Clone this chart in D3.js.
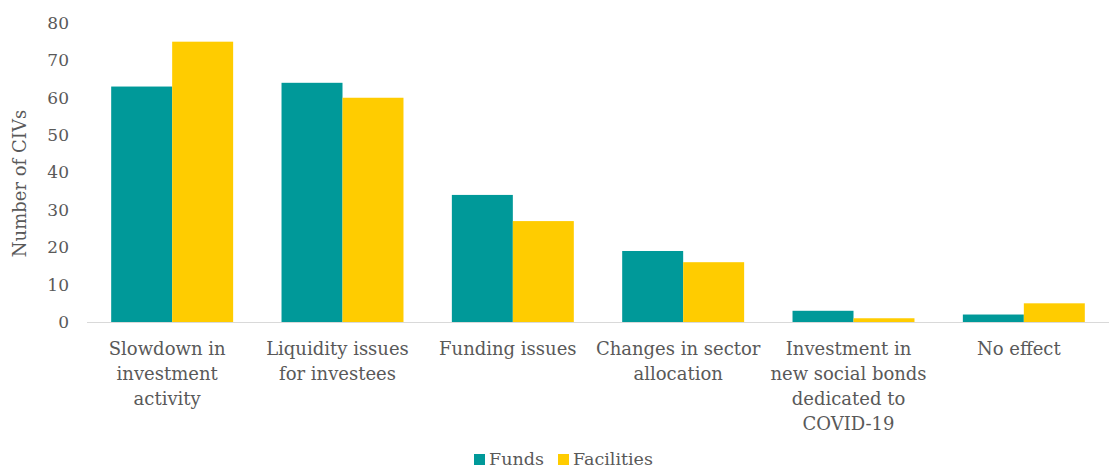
<!DOCTYPE html>
<html>
<head>
<meta charset="utf-8">
<script src="https://cdn.jsdelivr.net/npm/d3@7"></script>
<style>
  html, body { margin: 0; padding: 0; background: #fff; }
  svg { display: block; }
  text { font-family: "DejaVu Serif", Georgia, serif; fill: #595959; }
</style>
</head>
<body>
<svg id="chart" width="1109" height="468"></svg>
<script>
// Effects reported by CIVs, by type of vehicle
const categories = [
  ["Slowdown in", "investment", "activity"],
  ["Liquidity issues", "for investees"],
  ["Funding issues"],
  ["Changes in sector", "allocation"],
  ["Investment in", "new social bonds", "dedicated to", "COVID-19"],
  ["No effect"]
];
const seriesNames = ["Funds", "Facilities"];
const funds = [63, 64, 34, 19, 3, 2];
const facilities = [75, 60, 27, 16, 1, 5];
const yTicks = [0, 10, 20, 30, 40, 50, 60, 70, 80];
const colors = ["#009999", "#FFCC00"];

const svg = d3.select("#chart");
const margin = { left: 87, right: 0, top: 23, bottom: 146 };
const W = 1109, H = 468;
const plotBottom = H - margin.bottom;

const keys = categories.map((c, i) => i);
const x0 = d3.scaleBand()
  .domain(keys)
  .range([margin.left, W - margin.right])
  .paddingInner(0.284)
  .paddingOuter(0.142);
const x1 = d3.scaleBand()
  .domain(seriesNames)
  .range([0, x0.bandwidth()]);
const y = d3.scaleLinear()
  .domain([0, 80])
  .range([plotBottom, margin.top]);

const rows = keys.map(i => ({ i, values: [funds[i], facilities[i]] }));

// bars
const groups = svg.append("g").selectAll("g")
  .data(rows)
  .join("g")
  .attr("transform", d => `translate(${x0(d.i)},0)`);
groups.selectAll("rect")
  .data(d => d.values.map((v, k) => ({ key: seriesNames[k], v, k })))
  .join("rect")
  .attr("x", d => x1(d.key))
  .attr("width", x1.bandwidth())
  .attr("y", d => y(d.v))
  .attr("height", d => y(0) - y(d.v))
  .attr("fill", d => colors[d.k]);

// baseline
svg.append("line")
  .attr("x1", margin.left).attr("x2", W - margin.right)
  .attr("y1", y(0) + 0.5).attr("y2", y(0) + 0.5)
  .attr("stroke", "#d9d9d9").attr("stroke-width", 1);

// y axis labels
const yAxis = d3.axisLeft(y).tickValues(yTicks).tickSize(0).tickPadding(0);
const yg = svg.append("g")
  .attr("transform", `translate(69,0)`)
  .call(yAxis);
yg.select(".domain").remove();
yg.selectAll("text")
  .attr("font-family", "DejaVu Serif")
  .attr("font-size", 17)
  .attr("fill", "#595959");

// y title
svg.append("text")
  .attr("transform", `translate(26,${(y(0) + y(80)) / 2 + 11}) rotate(-90)`)
  .attr("text-anchor", "middle")
  .attr("font-size", 18)
  .text("Number of CIVs");

// category labels, wrapped onto several lines
const labelX = i => x0(i) + x0.bandwidth() / 2 - 5;
const cat = svg.append("g").selectAll("text")
  .data(rows)
  .join("text")
  .attr("text-anchor", "middle")
  .attr("font-size", 18)
  .attr("x", d => labelX(d.i))
  .attr("y", 355);
cat.selectAll("tspan")
  .data(d => categories[d.i].map(t => ({ t, cx: labelX(d.i) })))
  .join("tspan")
  .attr("x", d => d.cx)
  .attr("dy", (d, j) => j === 0 ? 0 : 25)
  .text(d => d.t);

// legend
const legend = svg.append("g").attr("transform", "translate(474,454)");
const item = legend.selectAll("g")
  .data(seriesNames)
  .join("g")
  .attr("transform", (d, k) => `translate(${k === 0 ? 0 : 84},0)`);
item.append("rect")
  .attr("width", 11).attr("height", 11)
  .attr("fill", (d, k) => colors[k]);
item.append("text")
  .attr("x", 15).attr("y", 11)
  .attr("font-size", 17.5)
  .text(d => d);
</script>
</body>
</html>
